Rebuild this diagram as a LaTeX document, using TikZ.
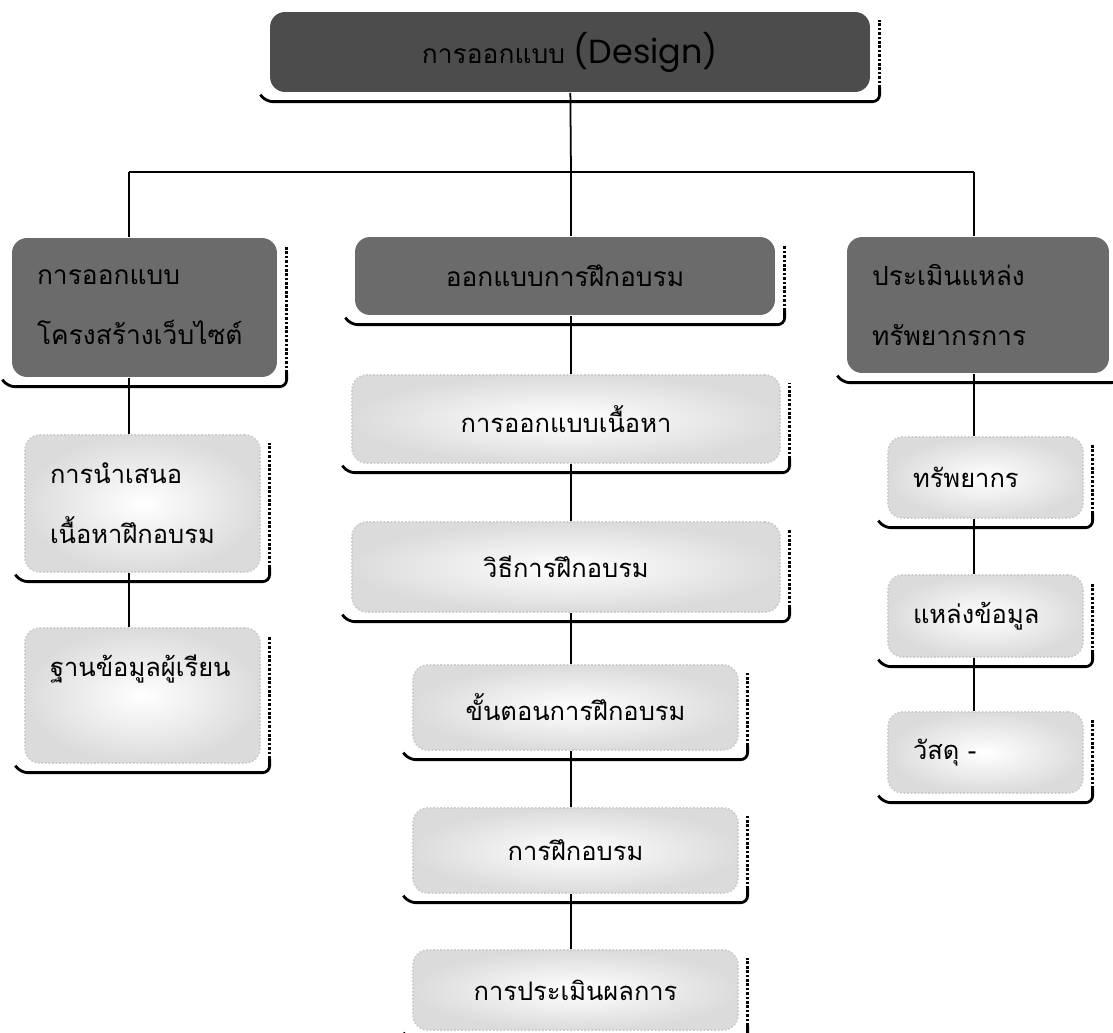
\documentclass[tikz,border=0pt]{standalone}
\usepackage{fontspec}
\newfontfamily\thaifont[Script=Thai]{Loma}
\newfontfamily\designfont{Poppins}

\begin{document}
\begin{tikzpicture}[x=0.02cm, y=-0.02cm, line width=1pt,
    darkbox/.style={rounded corners=0.3cm, fill=black!58, inner sep=0pt,
        font=\thaifont\fontsize{15}{34}\selectfont},
    lightbox/.style={rounded corners=0.3cm, draw=black!20, densely dotted,
        shading=radial, inner color=white, middle color=white, outer color=black!14, inner sep=0pt,
        font=\thaifont\fontsize{14.5}{34}\selectfont},
    lefttext/.style={align=left, text width=#1}]
            \useasboundingbox (0,0) rectangle (1113,1033);

            \node[darkbox, fill=black!70, minimum width=12cm, minimum height=1.6cm] (top) at (570,52)
                {การออกแบบ {\designfont\fontsize{19}{22}\selectfont (Design)}};

            \node[darkbox, lefttext=4.3cm, minimum width=5.3cm, minimum height=2.78cm] (L0) at (144.5,307.5)
                {การออกแบบ\\โครงสร้างเว็บไซต์};
            \node[darkbox, minimum width=8.4cm, minimum height=1.56cm] (M0) at (565,276) {ออกแบบการฝึกอบรม};
            \node[darkbox, lefttext=4.24cm, minimum width=5.24cm, minimum height=2.72cm] (R0) at (978,305)
                {ประเมินแหล่ง\\ทรัพยากรการ};

            \node[lightbox, lefttext=3.7cm, minimum width=4.7cm, minimum height=2.74cm] (L1) at (142.5,503.5)
                {การนำเสนอ\\เนื้อหาฝึกอบรม};
            \node[lightbox, lefttext=3.7cm, minimum width=4.7cm, minimum height=2.7cm] (L2) at (142.5,695.5)
                {ฐานข้อมูลผู้เรียน\\\mbox{}};

            \node[lightbox, minimum width=8.56cm, minimum height=1.76cm] (M1) at (566,419) {การออกแบบเนื้อหา};
            \node[lightbox, minimum width=8.56cm, minimum height=1.8cm] (M2) at (566,567) {วิธีการฝึกอบรม};
            \node[lightbox, minimum width=6.5cm, minimum height=1.7cm] (M3) at (575.5,707.5) {ขั้นตอนการฝึกอบรม};
            \node[lightbox, minimum width=6.5cm, minimum height=1.7cm] (M4) at (575.5,850.5) {การฝึกอบรม};
            \node[lightbox, minimum width=6.5cm, minimum height=1.6cm] (M5) at (575.5,990) {การประเมินผลการ};

            \node[lightbox, lefttext=2.9cm, minimum width=3.9cm, minimum height=1.62cm] (R1) at (985.5,477.5) {ทรัพยากร};
            \node[lightbox, lefttext=2.9cm, minimum width=3.9cm, minimum height=1.64cm] (R2) at (985.5,616) {แหล่งข้อมูล};
            \node[lightbox, lefttext=2.9cm, minimum width=3.9cm, minimum height=1.62cm] (R3) at (985.5,752.5) {วัสดุ -};

            \foreach \n in {top,L0,M0,R0,L1,L2,M1,M2,M3,M4,M5,R1,R2,R3}{
                \draw[line width=1.6pt, rounded corners=4pt] ([xshift=-5pt,yshift=-1pt]\n.south west)
                    -- ([xshift=-2pt,yshift=-5pt]\n.south west) -- ([xshift=5pt,yshift=-5pt]\n.south east)
                    -- ([xshift=5pt,yshift=3pt]\n.south east);
                \draw[densely dotted, line width=1.5pt] ([xshift=5pt,yshift=3pt]\n.south east)
                    -- ([xshift=5pt,yshift=-5pt]\n.north east);
            }

            \coordinate (jl) at (129,172);
            \coordinate (jt) at (571,172);
            \coordinate (jr) at (974,172);

            \path (top) edge (jt);
            \path (jl) edge (jr);
            \path (jl) edge (jl |- L0.north);
            \path (jt) edge (jt |- M0.north);
            \path (jr) edge (jr |- R0.north);

            \path (jl |- L0.south) edge (jl |- L1.north);
            \path (jl |- L1.south) edge (jl |- L2.north);

            \path (jt |- M0.south) edge (jt |- M1.north);
            \path (jt |- M1.south) edge (jt |- M2.north);
            \path (jt |- M2.south) edge (jt |- M3.north);
            \path (jt |- M3.south) edge (jt |- M4.north);
            \path (jt |- M4.south) edge (jt |- M5.north);

            \path (jr |- R0.south) edge (jr |- R1.north);
            \path (jr |- R1.south) edge (jr |- R2.north);
            \path (jr |- R2.south) edge (jr |- R3.north);

        \end{tikzpicture}
\end{document}
